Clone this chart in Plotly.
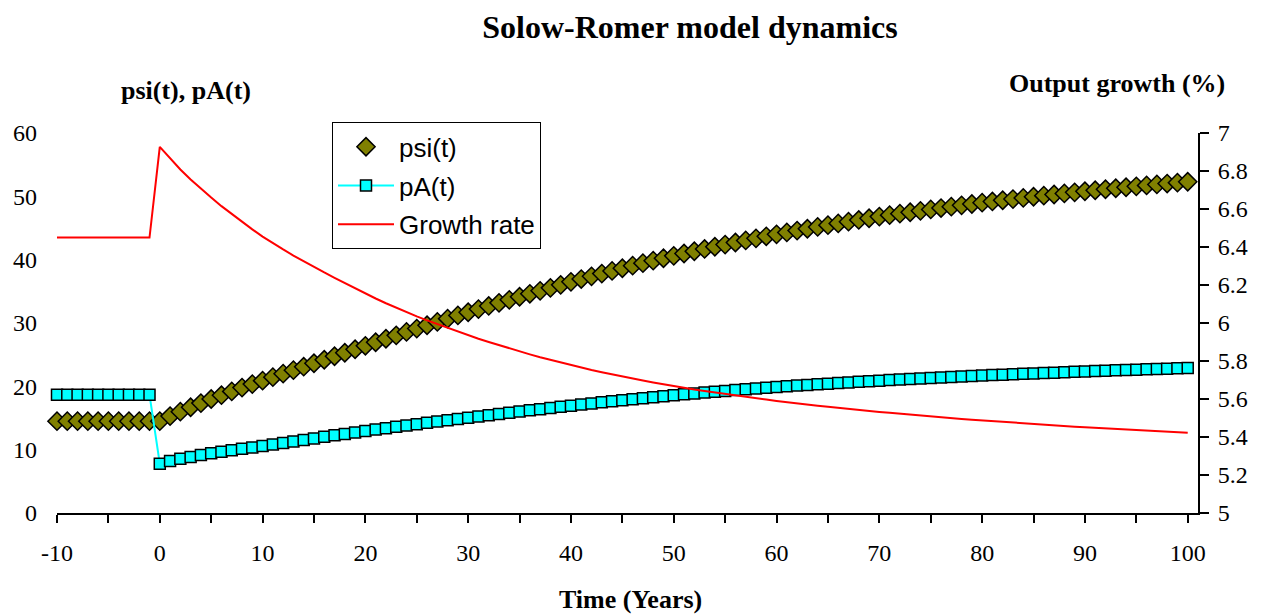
import plotly.graph_objects as go

# ---------------- data ----------------
years = list(range(-10, 101))

psi = [14.5] * 11 + [
    15.3, 16.0, 16.7, 17.35, 18.0, 18.6, 19.2, 19.8, 20.35, 20.9,
    21.45, 22.0, 22.55, 23.1, 23.65, 24.2, 24.75, 25.3, 25.85, 26.4,
    26.96, 27.51, 28.05, 28.59, 29.12, 29.65, 30.17, 30.69, 31.2, 31.7,
    32.2, 32.69, 33.18, 33.66, 34.14, 34.61, 35.08, 35.55, 36.02, 36.5,
    36.94, 37.37, 37.8, 38.22, 38.64, 39.05, 39.45, 39.84, 40.22, 40.6,
    40.97, 41.33, 41.69, 42.04, 42.38, 42.71, 43.04, 43.37, 43.69, 44.0,
    44.3, 44.59, 44.88, 45.17, 45.45, 45.73, 46.0, 46.27, 46.54, 46.8,
    47.03, 47.26, 47.49, 47.71, 47.93, 48.15, 48.37, 48.58, 48.79, 49.0,
    49.19, 49.38, 49.57, 49.75, 49.93, 50.11, 50.29, 50.46, 50.63, 50.8,
    50.96, 51.12, 51.28, 51.43, 51.58, 51.73, 51.88, 52.02, 52.16, 52.3,
]

pA = [18.66] * 10 + [
    7.78,
    8.2, 8.55, 8.85, 9.15, 9.42, 9.68, 9.92, 10.15, 10.36, 10.56,
    10.81, 11.06, 11.3, 11.54, 11.78, 12.02, 12.26, 12.49, 12.72, 12.95,
    13.17, 13.39, 13.61, 13.82, 14.03, 14.24, 14.45, 14.65, 14.85, 15.05,
    15.25, 15.45, 15.64, 15.83, 16.02, 16.21, 16.4, 16.58, 16.77, 16.95,
    17.13, 17.3, 17.47, 17.64, 17.81, 17.97, 18.13, 18.29, 18.45, 18.6,
    18.74, 18.88, 19.02, 19.15, 19.28, 19.41, 19.54, 19.66, 19.78, 19.9,
    20.01, 20.12, 20.22, 20.32, 20.42, 20.52, 20.62, 20.72, 20.81, 20.9,
    20.99, 21.07, 21.15, 21.23, 21.31, 21.39, 21.47, 21.55, 21.63, 21.7,
    21.77, 21.84, 21.9, 21.97, 22.03, 22.1, 22.16, 22.23, 22.29, 22.35,
    22.41, 22.46, 22.52, 22.57, 22.63, 22.68, 22.74, 22.79, 22.85, 22.9,
]

growth = [6.45] * 10 + [
    6.927,
    6.865, 6.808, 6.755, 6.706, 6.660, 6.615, 6.573, 6.532, 6.493, 6.455,
    6.420, 6.387, 6.355, 6.324, 6.295, 6.266, 6.238, 6.210, 6.182, 6.155,
    6.129, 6.104, 6.080, 6.057, 6.035, 6.014, 5.994, 5.974, 5.954, 5.935,
    5.917, 5.900, 5.883, 5.866, 5.850, 5.835, 5.820, 5.806, 5.792, 5.778,
    5.765, 5.753, 5.741, 5.729, 5.718, 5.707, 5.697, 5.687, 5.677, 5.668,
    5.659, 5.650, 5.642, 5.634, 5.626, 5.618, 5.611, 5.604, 5.597, 5.590,
    5.583, 5.577, 5.571, 5.565, 5.559, 5.553, 5.547, 5.542, 5.537, 5.532,
    5.527, 5.522, 5.517, 5.512, 5.508, 5.503, 5.499, 5.495, 5.491, 5.487,
    5.483, 5.479, 5.475, 5.471, 5.468, 5.464, 5.460, 5.457, 5.454, 5.451,
    5.448, 5.445, 5.442, 5.439, 5.436, 5.433, 5.430, 5.427, 5.424, 5.422,
]

left_ticks = [0, 10, 20, 30, 40, 50, 60]
right_ticks = [5.0, 5.2, 5.4, 5.6, 5.8, 6.0, 6.2, 6.4, 6.6, 6.8, 7.0]
right_labels = ["5", "5.2", "5.4", "5.6", "5.8", "6", "6.2", "6.4", "6.6", "6.8", "7"]
x_ticks = [-10, 0, 10, 20, 30, 40, 50, 60, 70, 80, 90, 100]
x_labels = ["-10", "0", "10", "20", "30", "40", "50", "60", "70", "80", "90", "100"]

# ---------------- figure ----------------
SERIF = "Liberation Serif"
SANS = "Liberation Sans"
XMIN, XMAX = -10, 101

W, H = 1263, 614
OFF = 8  # page body margin
# plot area in page pixels
PL, PR, PT, PB = 57, 1198, 132.7, 513.3
ML, MR, MT, MB = PL - OFF, W - (PR - OFF), PT - OFF, H - (PB - OFF)


def px(xp):
    return (xp - PL) / (PR - PL)


def py(yp):
    return (PB - yp) / (PB - PT)


fig = go.Figure()
fig.add_trace(go.Scatter(
    x=years, y=psi, name="psi(t)", mode="markers", legendgroup="a",
    marker=dict(symbol="diamond", size=14, color="#808000",
                line=dict(color="black", width=1.5)),
    cliponaxis=False, xaxis="x", yaxis="y"))
fig.add_trace(go.Scatter(
    x=years, y=pA, name="pA(t)", mode="lines+markers", legendgroup="b",
    line=dict(color="#00FFFF", width=2),
    marker=dict(symbol="square", size=11, color="#00FFFF",
                line=dict(color="black", width=1.5)),
    cliponaxis=False, xaxis="x", yaxis="y"))
fig.add_trace(go.Scatter(
    x=years, y=growth, name="Growth rate", mode="lines", legendgroup="c",
    line=dict(color="#FF0000", width=2),
    cliponaxis=False, xaxis="x", yaxis="y2"))

tickfont = dict(family=SERIF, size=24, color="black")
pos0 = (0 - XMIN) / (XMAX - XMIN)

fig.update_layout(
    width=W, height=H, autosize=False,
    font=dict(family=SERIF, color="black"),
    paper_bgcolor="white", plot_bgcolor="white",
    margin=dict(l=ML, r=MR, t=MT, b=MB, pad=0),
    title=dict(text="<b>Solow-Romer model dynamics</b>", x=(690 - OFF) / W, xref="container",
               y=1 - (27 - OFF) / H, yref="container", xanchor="center", yanchor="middle",
               font=dict(family=SERIF, size=32, color="black")),
    showlegend=True,
    legend=dict(x=px(332), y=py(122), xanchor="left", yanchor="top",
                bordercolor="black", borderwidth=1, bgcolor="white",
                font=dict(family=SANS, size=26, color="black"),
                itemwidth=56,
                traceorder="grouped", tracegroupgap=2),
    xaxis=dict(domain=[0, 1], range=[XMIN, XMAX], anchor="y", automargin=False,
               tickmode="array", tickvals=x_ticks, ticktext=x_labels,
               ticks="outside", ticklen=8, tickwidth=1.5, tickcolor="black",
               minor=dict(dtick=5, tick0=0, ticks="outside", ticklen=8,
                          tickwidth=1.5, tickcolor="black"),
               showline=True, linecolor="black", linewidth=2,
               showgrid=False, zeroline=False, tickfont=tickfont,
               ticklabelstandoff=9),
    xaxis2=dict(domain=[0, 1], range=[XMIN, XMAX], overlaying="x", anchor="y",
                automargin=False,
                tickmode="array", tickvals=x_ticks, ticks="inside", ticklen=8,
                tickwidth=1.5, tickcolor="black",
                minor=dict(dtick=5, tick0=0, ticks="inside", ticklen=8,
                           tickwidth=1.5, tickcolor="black"),
                showline=False, showgrid=False, zeroline=False,
                showticklabels=False),
    yaxis=dict(domain=[0, 1], range=[0, 60], tickmode="array", tickvals=left_ticks,
               ticks="", showline=False, showgrid=False, zeroline=False, automargin=False,
               tickfont=tickfont, ticklabelstandoff=19, anchor="x"),
    yaxis3=dict(range=[0, 60], overlaying="y", anchor="free", position=pos0,
                side="left", tickmode="array", tickvals=left_ticks, automargin=False,
                ticks="outside", ticklen=9, tickwidth=1.5, tickcolor="black",
                showline=True, linecolor="black", linewidth=2,
                showgrid=False, zeroline=False, showticklabels=False),
    yaxis4=dict(range=[0, 60], overlaying="y", anchor="free", position=pos0,
                side="left", tickmode="array", tickvals=left_ticks, automargin=False,
                ticks="inside", ticklen=9, tickwidth=1.5, tickcolor="black",
                showline=False, showgrid=False, zeroline=False, showticklabels=False),
    yaxis2=dict(range=[5, 7], overlaying="y", side="right", anchor="x", automargin=False,
                tickmode="array", tickvals=right_ticks, ticktext=right_labels,
                ticks="outside", ticklen=9, tickwidth=1.5, tickcolor="black",
                showline=True, linecolor="black", linewidth=2,
                showgrid=False, zeroline=False, tickfont=tickfont,
                ticklabelstandoff=4),
    yaxis5=dict(range=[5, 7], overlaying="y", side="right", anchor="x", automargin=False,
                tickmode="array", tickvals=right_ticks,
                ticks="inside", ticklen=9, tickwidth=1.5, tickcolor="black",
                showline=False, showgrid=False, zeroline=False, showticklabels=False),
    annotations=[
        dict(text="<b>psi(t), pA(t)</b>", xref="paper", yref="paper",
             x=px(186), y=py(90), xanchor="center", yanchor="middle",
             showarrow=False, font=dict(family=SERIF, size=26, color="black")),
        dict(text="<b>Output growth (%)</b>", xref="paper", yref="paper",
             x=px(1117), y=py(83), xanchor="center", yanchor="middle",
             showarrow=False, font=dict(family=SERIF, size=26, color="black")),
        dict(text="<b>Time (Years)</b>", xref="paper", yref="paper",
             x=px(630), y=py(600), xanchor="center", yanchor="middle",
             showarrow=False, font=dict(family=SERIF, size=26, color="black")),
    ],
)

fig.write_html("out.html")
